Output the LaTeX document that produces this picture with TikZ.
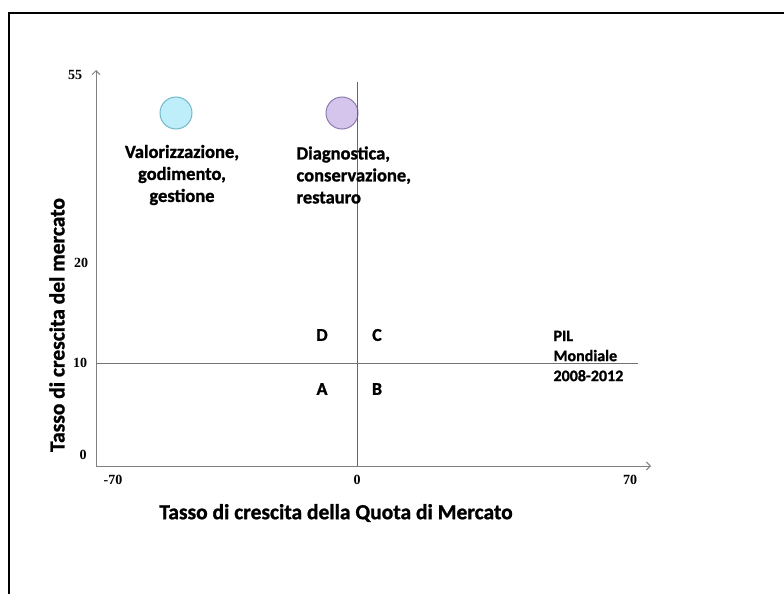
\documentclass[tikz,border=0pt]{standalone}
\usepackage{fontspec}
\setmainfont{Carlito}[BoldFont={Carlito Bold},BoldFeatures={FakeBold=1.2}]
\newfontfamily\tickfont{Liberation Serif}[BoldFont={Liberation Serif Bold}]
\usetikzlibrary{arrows.meta,positioning}
\definecolor{cyanfill}{HTML}{BDEEF9}
\definecolor{cyanline}{HTML}{74B7C9}
\definecolor{lilafill}{HTML}{D5C5EC}
\definecolor{lilaline}{HTML}{8C7BAE}

\begin{document}
\begin{tikzpicture}[x=1pt,y=-1pt,
  ticklabel/.style={font=\tickfont\bfseries\fontsize{14}{16}\selectfont},
  quad/.style={font=\bfseries\fontsize{18}{22}\selectfont},
  sector/.style={font=\bfseries\fontsize{18.5}{22}\selectfont,align=center},
  axislabel/.style={font=\bfseries\fontsize{21.5}{24}\selectfont},
  axisline/.style={draw=black!50,line width=1pt,-{Straight Barb[length=4pt,width=8pt]}},
  bubble/.style={circle,minimum size=32pt,inner sep=0pt,line width=1pt}]
\useasboundingbox (0,0) rectangle (784,594);
\draw[line width=1.5pt] (9,594) -- (9,13) -- (784,13);

\coordinate (o) at (96,466);
\coordinate (ytop) at (96,70);
\coordinate (xend) at (651,466);
\coordinate (vtop) at (357,82);
\coordinate (vbot) at (357,466);
\coordinate (hl) at (96,363);
\coordinate (hr) at (638,363);

\node[bubble,draw=cyanline,fill=cyanfill] (b1) at (176,113) {};
\node[bubble,draw=lilaline,fill=lilafill] (b2) at (342,113) {};

\draw[axisline] (o) -- (ytop);
\draw[axisline] (o) -- (xend);
\draw[black!60,line width=.8pt] (vbot) -- (vtop);
\draw[black!55,line width=1pt] (hl) -- (hr);

\node[sector] (t1) at (182,175) {Valorizzazione,\\godimento,\\gestione};
\node[sector,align=left,anchor=west] (t2) at (293,175) {Diagnostica,\\conservazione,\\restauro};

\node[quad] (qd) at (322,335) {D};
\node[quad] (qc) at (377,335) {C};
\node[quad] (qa) at (322,389) {A};
\node[quad] (qb) at (377,389) {B};
\node[font=\bfseries\fontsize{16}{20}\selectfont,align=left,anchor=west] (pil) at (550,356) {PIL\\Mondiale\\2008-2012};

\node[ticklabel] (y55) at (75,75) {55};
\node[ticklabel] (y20) at (81,263) {20};
\node[ticklabel] (y10) at (80,363) {10};
\node[ticklabel] (y0) at (83,455) {0};
\node[ticklabel] (xm70) at (113,480) {-70};
\node[ticklabel] (x0) at (357,480) {0};
\node[ticklabel] (x70) at (630,480) {70};

\node[axislabel,rotate=90] (ylab) at (57,325) {Tasso di crescita del mercato};
\node[axislabel] (xlab) at (336,513) {Tasso di crescita della Quota di Mercato};
\end{tikzpicture}
\end{document}
